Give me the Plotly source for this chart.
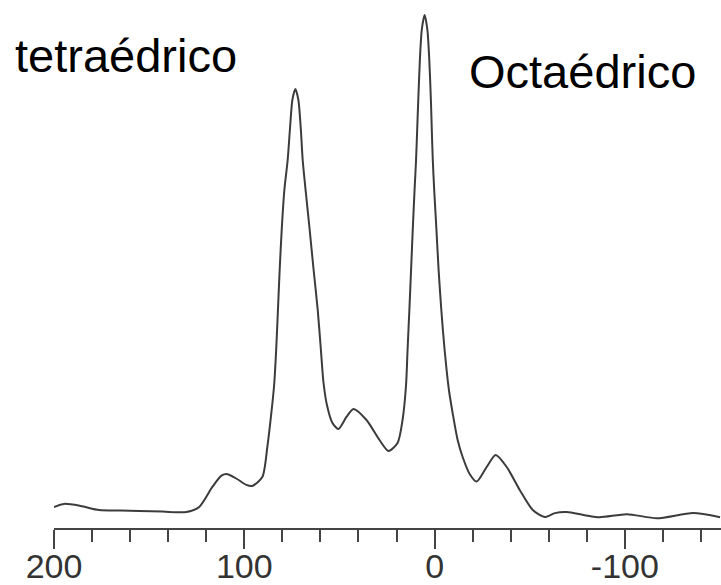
import plotly.graph_objects as go

# Chemical shift (ppm) and relative intensity
shift_ppm = [200, 194.7, 186, 176.3, 165, 155.3, 143, 130.5, 123.7, 116.8, 112, 108.9, 104,
             98.9, 95.8,
             90.53, 87.89, 85.79, 84.32, 83.26, 82.32, 81.42, 80.26, 78.95, 77.21, 76.05,
             74.74, 73.16, 71.58, 70.26, 69.32, 67.63, 65.79, 63.68, 61.42, 59.74, 58.42,
             56.58, 53.68, 50.53, 46.32, 42.63, 35.79, 28.95, 24.21, 19.47, 16.84, 15.0,
             14.21, 13.26, 12.37, 11.42, 10.53, 9.74, 9.16, 8.58, 7.74, 6.74, 5.26, 3.79,
             2.79, 1.95, 1.47, 0.95, 0.21, -0.89, -2.11, -3.53, -5.26, -7.53, -9.47,
             -12.11, -14.74, -18.42, -22.11, -27.37, -32.11, -37.89, -44.74, -51.58,
             -57.89, -63.2, -69.5, -78.9, -86.8, -101.1, -116.8, -135.8, -150]
intensity = [4.1, 4.7, 4.3, 3.5, 3.4, 3.3, 3.2, 3.1, 4.1, 8.0, 10.2, 10.5, 9.6,
             8.4, 8.2,
             9.94, 15.79, 22.42, 27.88, 34.70, 42.50, 50.29, 58.67, 65.89, 71.73, 77.58,
             83.43, 85.58, 83.43, 77.58, 71.73, 65.30, 58.67, 50.68, 42.50, 34.70, 28.46,
             23.98, 20.47, 19.30, 21.64, 23.20, 21.05, 17.15, 15.01, 16.57, 21.05, 27.88,
             34.70, 42.50, 50.29, 58.67, 65.89, 71.73, 77.58, 83.43, 91.23, 97.08, 100.0,
             97.08, 91.23, 83.43, 77.58, 71.73, 65.89, 58.67, 50.29, 42.50, 34.70, 26.90,
             22.42, 17.15, 13.84, 10.53, 9.04, 11.89, 14.23, 11.89, 7.41, 3.51,
             2.14, 2.9, 3.1, 2.5, 2.1, 2.7, 1.9, 2.9, 2.1]

major_ticks = [200, 100, 0, -100]
major_labels = ["200", "100", "0", "-100"]

fig = go.Figure()
fig.add_trace(go.Scatter(
    x=shift_ppm, y=intensity, mode="lines",
    line=dict(color="#3c3c3c", width=2, shape="spline", smoothing=0.7),
    showlegend=False, hoverinfo="skip"))

fig.update_layout(
    width=721, height=585,
    margin=dict(l=54, r=0, t=0, b=57),
    paper_bgcolor="white", plot_bgcolor="white",
    font=dict(family="Liberation Sans, Arial, sans-serif", color="#333"),
    xaxis=dict(
        range=[200, -150.5], showgrid=False, zeroline=False, automargin=False,
        showline=True, linecolor="#444", linewidth=2,
        tickmode="array", tickvals=major_ticks, ticktext=major_labels,
        ticks="outside", ticklen=19, tickwidth=2, tickcolor="#444",
        tickfont=dict(size=34, color="#333"), ticklabelstandoff=-12,
        minor=dict(dtick=20, tick0=0, ticks="outside", ticklen=12,
                   tickwidth=2, tickcolor="#444", showgrid=False),
    ),
    yaxis=dict(range=[0, 102.92], visible=False, automargin=False),
    annotations=[
        dict(text="tetraédrico", xref="paper", yref="paper",
             x=-0.0615, y=0.895, xanchor="left", yanchor="middle",
             showarrow=False, font=dict(size=47, color="black")),
        dict(text="Octaédrico", xref="paper", yref="paper",
             x=0.619, y=0.865, xanchor="left", yanchor="middle",
             showarrow=False, font=dict(size=47, color="black")),
    ],
)

fig.write_html("out.html", config={"displayModeBar": False},
               post_script="document.body.style.margin='0';document.body.style.overflow='hidden';")
